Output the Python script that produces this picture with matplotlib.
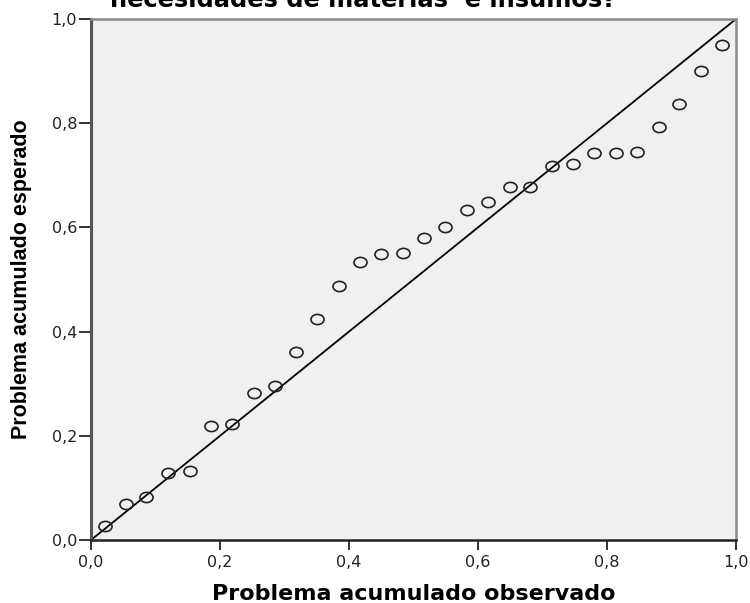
#Normal P-P plot: observed vs expected cumulative probability
import numpy as np
import matplotlib.pyplot as plt
from matplotlib.path import Path

observado = [0.021, 0.054, 0.086, 0.120, 0.153, 0.186, 0.219, 0.252, 0.285, 0.318,
             0.351, 0.384, 0.417, 0.450, 0.483, 0.516, 0.549, 0.583, 0.616, 0.649,
             0.681, 0.714, 0.747, 0.780, 0.814, 0.846, 0.880, 0.912, 0.946, 0.979]
#expected cumulative probability (y)
esperado = [0.027, 0.070, 0.082, 0.128, 0.133, 0.219, 0.223, 0.283, 0.296, 0.360,
            0.424, 0.488, 0.534, 0.548, 0.551, 0.579, 0.601, 0.633, 0.649, 0.678,
            0.678, 0.718, 0.722, 0.743, 0.743, 0.745, 0.793, 0.837, 0.900, 0.951]

ticks = [0.0, 0.2, 0.4, 0.6, 0.8, 1.0]
tick_labels = ['0,0', '0,2', '0,4', '0,6', '0,8', '1,0']

plt.rcParams['font.family'] = ['DejaVu Sans']

fig = plt.figure(figsize=(7.5, 6.03), dpi=100)
ax = fig.add_axes([91 / 750, 63 / 603, 645 / 750, 521 / 603])
ax.set_facecolor('#f0f0f0')

#the original picture is stretched sideways, so the circles are a bit wide
circ = Path.unit_circle()
ellipse = Path(circ.vertices * np.array([1.28, 1.0]), circ.codes)

#reference line
ax.plot([0, 1], [0, 1], color='black', linewidth=1.3, zorder=2)
#points
ax.plot(observado, esperado, linestyle='none', marker=ellipse, markersize=9.4,
        markerfacecolor='none', markeredgecolor='#222222', markeredgewidth=1.2, zorder=3)

ax.set_xlim(0, 1)
ax.set_ylim(0, 1)
ax.set_xticks(ticks)
ax.set_xticklabels(tick_labels)
ax.set_yticks(ticks)
ax.set_yticklabels(tick_labels)
ax.tick_params(direction='out', width=1.3, labelsize=11.5, colors='#222222',
               top=False, right=False)
ax.tick_params(axis='x', length=7, pad=4)
ax.tick_params(axis='y', length=9, pad=1)

ax.spines['left'].set_color('#555555')
ax.spines['left'].set_linewidth(2.2)
ax.spines['bottom'].set_color('#222222')
ax.spines['bottom'].set_linewidth(1.8)
ax.spines['top'].set_color('#8a8a8a')
ax.spines['top'].set_linewidth(1.8)
ax.spines['right'].set_color('#8a8a8a')
ax.spines['right'].set_linewidth(1.8)

ax.set_xlabel('Problema acumulado observado', fontsize=16, fontweight='bold', labelpad=10)
ax.set_ylabel('Problema acumulado esperado', fontsize=15.5, fontweight='bold',
              family='Liberation Sans', labelpad=14)

#title, cut off at the top of the picture (as in the original)
fig.text(363 / 750, 1 - 7 / 603, 'necesidades de materias  e insumos?', ha='center',
         va='baseline', fontsize=17.4, fontweight='bold')

fig.savefig('out.png', dpi=100)
